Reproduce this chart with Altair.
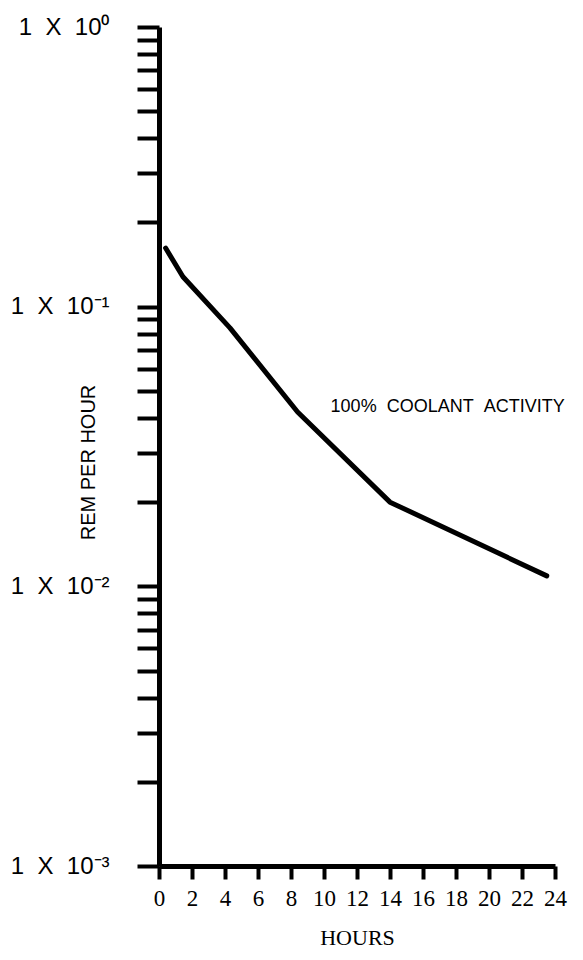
import altair as alt
import pandas as pd

# Data
hours = [0.4, 1.45, 4.3, 8.4, 14.0, 23.5]
rem_per_hour = [0.162, 0.128, 0.084, 0.042, 0.020, 0.0109]

x_ticks = [0, 2, 4, 6, 8, 10, 12, 14, 16, 18, 20, 22, 24]
y_ticks = [0.001, 0.002, 0.003, 0.004, 0.005, 0.006, 0.007, 0.008, 0.009,
           0.01, 0.02, 0.03, 0.04, 0.05, 0.06, 0.07, 0.08, 0.09,
           0.1, 0.2, 0.3, 0.4, 0.5, 0.6, 0.7, 0.8, 0.9, 1.0]
decade_values = [1.0, 0.1, 0.01, 0.001]
NB = "\u00a0"
decade_labels = [f"1{NB}{NB}X{NB}{NB}10\u2070", f"1{NB}{NB}X{NB}{NB}10\u207b\u00b9",
                 f"1{NB}{NB}X{NB}{NB}10\u207b\u00b2", f"1{NB}{NB}X{NB}{NB}10\u207b\u00b3"]

annot_text = [f"100%{NB}{NB}COOLANT{NB}{NB}ACTIVITY"]
annot_x = [10.4]
annot_y = [0.0438]

df = pd.DataFrame({"hours": hours, "rem": rem_per_hour})
ann = pd.DataFrame({"hours": annot_x, "rem": annot_y, "label": annot_text})

label_expr = " : ".join(
    f"datum.value == {v} ? '{l}'" for v, l in zip(decade_values, decade_labels)
) + " : ''"

xscale = alt.Scale(domain=[0, 24], nice=False)
yscale = alt.Scale(type="log", domain=[0.001, 1], nice=False)

x_axis = alt.Axis(values=x_ticks, title="HOURS", labelFont="Liberation Serif",
                  labelFontSize=23, labelColor="black", labelPadding=8,
                  tickSize=13, tickWidth=4, tickColor="black",
                  domainWidth=5, domainColor="black",
                  titleFont="Liberation Serif", titleFontSize=22,
                  titleFontWeight="normal", titleColor="black",
                  titlePadding=17, grid=False, labelFlush=False,
                  labelOverlap=False)
y_axis = alt.Axis(values=y_ticks, labelExpr=label_expr, title="REM PER HOUR",
                  labelFont="Liberation Sans", labelFontSize=24,
                  labelColor="black", labelPadding=28, labelBaseline="middle",
                  tickSize=22, tickWidth=4, tickColor="black",
                  domainWidth=5, domainColor="black",
                  titleFont="Liberation Sans", titleFontSize=20,
                  titleFontWeight="normal", titleColor="black",
                  titleX=-71, titleY=435, titleAngle=-90,
                  titleAlign="center", titleBaseline="middle",
                  grid=False, labelFlush=False, labelOverlap=False)

line = alt.Chart(df).mark_line(color="black", strokeWidth=5, strokeCap="round", strokeJoin="round").encode(
    x=alt.X("hours:Q", scale=xscale, axis=x_axis),
    y=alt.Y("rem:Q", scale=yscale, axis=y_axis),
)

text = alt.Chart(ann).mark_text(align="left", baseline="middle", font="Liberation Sans",
                                fontSize=18, color="black").encode(
    x=alt.X("hours:Q", scale=xscale, axis=x_axis),
    y=alt.Y("rem:Q", scale=yscale, axis=y_axis),
    text="label:N",
)

chart = alt.layer(line, text).properties(
    width=396, height=839,
    autosize=alt.AutoSizeParams(type="none"),
    padding={"left": 151, "top": 19, "right": 20, "bottom": 86},
    background="white",
).configure_view(stroke=None, strokeWidth=0)

chart.save("out.html", embed_options={"renderer": "svg", "actions": False})
